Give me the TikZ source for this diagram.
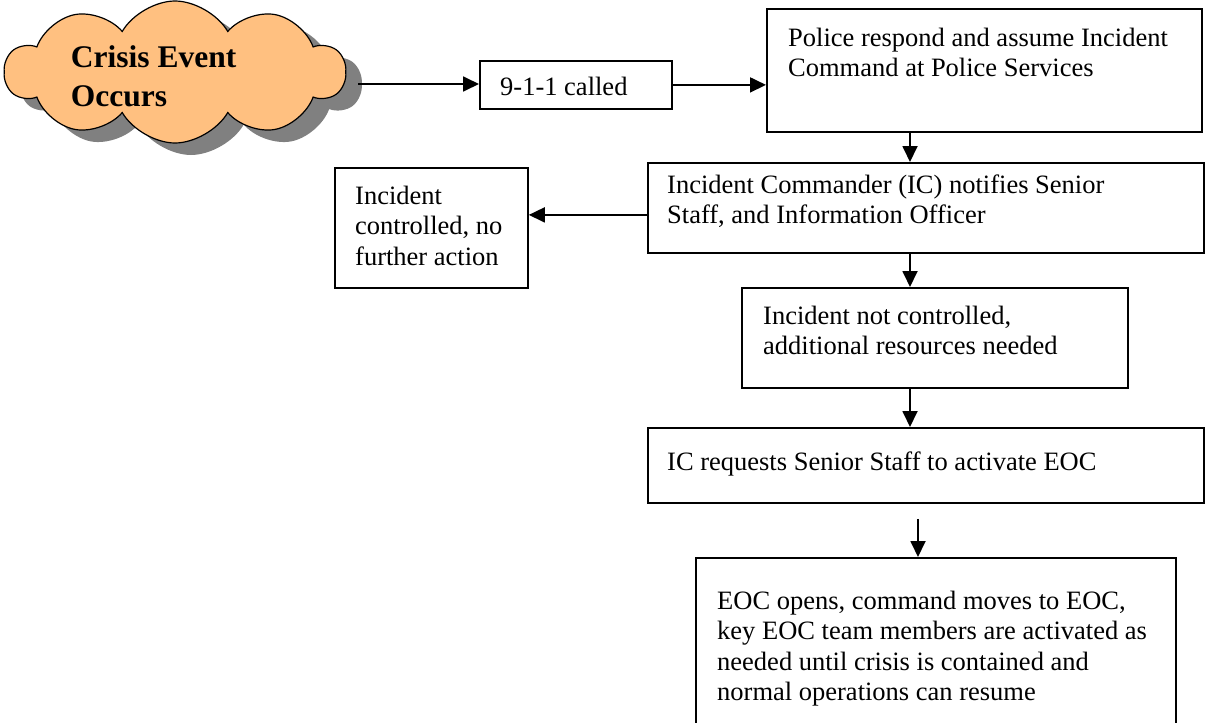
\documentclass[tikz,border=0pt]{standalone}
\usepackage{fontspec}
\setmainfont{Liberation Serif}
\usetikzlibrary{arrows.meta,shapes.symbols,shadows,calc}
\definecolor{peach}{RGB}{255,192,128}
\definecolor{shade}{RGB}{128,128,128}
\newcommand\boxlines[1]{\begin{tabular}[t]{@{}l@{}}#1\end{tabular}}
\begin{document}
\begin{tikzpicture}[x=1pt,y=-1pt,
  box/.style={draw,line width=1.8pt,rectangle,inner sep=0pt,anchor=north west},
  txt/.style={anchor=base west,inner sep=0pt,font=\fontsize{26.5}{30.5}\selectfont},
  arr/.style={line width=1.8pt,-{Triangle[length=16pt,width=15pt]}}]
\useasboundingbox (0,0) rectangle (1211,723);
\clip (0,0) rectangle (1211,723);
% cloud
\node[cloud,cloud puffs=10,cloud puff arc=120,aspect=2.4,minimum width=340pt,minimum height=142pt,
  draw,line width=1.2pt,fill=peach,
  drop shadow={shadow xshift=16pt,shadow yshift=-12pt,fill=shade,opacity=1}] (cloud) at (175,72) {};
\node[anchor=base west,inner sep=0pt,font=\fontsize{31.5}{39}\selectfont\bfseries] (cloudT) at (70.7,67)
  {\boxlines{Crisis Event\\Occurs}};
% boxes
\node[box,minimum width=192pt,minimum height=48pt] (b911) at (479,60) {};
\node[box,minimum width=435pt,minimum height=123pt] (police) at (766,8) {};
\node[box,minimum width=556pt,minimum height=90pt] (ic) at (647,162) {};
\node[box,minimum width=193pt,minimum height=120pt] (ctl) at (334,167) {};
\node[box,minimum width=386pt,minimum height=100pt] (nc) at (741,287) {};
\node[box,minimum width=556pt,minimum height=75pt] (req) at (647,427) {};
\node[box,minimum width=480pt,minimum height=200pt] (eoc) at (695,557) {};
% texts
\node[txt] (b911T) at ($(b911.north west)+(21,35)$) {9-1-1 called};
\node[txt] (policeT) at ($(police.north west)+(22,38)$) {\boxlines{Police respond and assume Incident\\Command at Police Services}};
\node[txt] (icT) at ($(ic.north west)+(20,31)$) {\boxlines{Incident Commander (IC) notifies Senior\\Staff, and Information Officer}};
\node[txt] (ctlT) at ($(ctl.north west)+(21,37)$) {\boxlines{Incident\\controlled, no\\further action}};
\node[txt] (ncT) at ($(nc.north west)+(22,37)$) {\boxlines{Incident not controlled,\\additional resources needed}};
\node[txt] (reqT) at ($(req.north west)+(20,43)$) {IC requests Senior Staff to activate EOC};
\node[txt] (eocT) at ($(eoc.north west)+(22,52)$) {\boxlines{EOC opens, command moves to EOC,\\key EOC team members are activated as\\needed until crisis is contained and\\normal operations can resume}};
% connectors
\coordinate (cs) at (358,84);
\coordinate (vx) at (910,0);
\coordinate (vx2) at (918,0);
\coordinate (icl) at ([yshift=-7pt]ic.west);
\coordinate (reqb) at ([yshift=-15pt]req.south);
\draw[arr] (cs) -- (cs -| b911.west);
\draw[arr] (b911.east) -- (b911.east -| police.west);
\draw[arr] (police.south -| vx) -- (ic.north -| vx);
\draw[arr] (icl) -- (icl -| ctl.east);
\draw[arr] (ic.south -| vx) -- (nc.north -| vx);
\draw[arr] (nc.south -| vx) -- (req.north -| vx);
\draw[arr] (reqb -| vx2) -- (eoc.north -| vx2);
\end{tikzpicture}
\end{document}
